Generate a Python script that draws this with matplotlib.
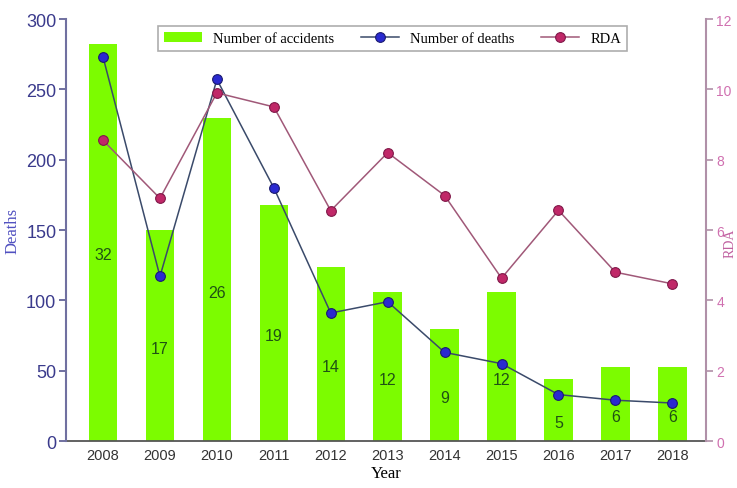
import matplotlib
matplotlib.use("Agg")
import matplotlib.pyplot as plt
import numpy as np

years = ["2008", "2009", "2010", "2011", "2012", "2013", "2014", "2015", "2016", "2017", "2018"]
accidents = [32, 17, 26, 19, 14, 12, 9, 12, 5, 6, 6]
deaths = [273, 117, 257, 180, 91, 99, 63, 55, 33, 29, 27]
rda = [8.55, 6.9, 9.9, 9.5, 6.55, 8.2, 6.98, 4.63, 6.56, 4.8, 4.47]

sans = "Liberation Sans"
serif = "Liberation Serif"

fig = plt.figure(figsize=(7.37, 4.89), dpi=100)
ax_b = fig.add_axes([0.0896, 0.0961, 0.8690, 0.8630])
x = np.arange(len(years))

bars = ax_b.bar(x, accidents, width=0.5, color="#7CFC00", label="Number of accidents", zorder=1)
ax_b.set_ylim(0, 34)
ax_b.set_xlim(-0.65, 10.6)
ax_b.yaxis.set_visible(False)
for s in ["left", "right", "top"]:
    ax_b.spines[s].set_visible(False)
ax_b.spines["bottom"].set_color("#555555")
ax_b.spines["bottom"].set_linewidth(1.3)
ax_b.set_xticks(x)
ax_b.set_xticklabels(years, fontfamily=sans, fontsize=10.5, color="#333333")
ax_b.tick_params(axis="x", length=0, pad=5)
ax_b.set_xlabel("Year", fontfamily=serif, fontsize=12, labelpad=2)

for xi, a in zip(x, accidents):
    ax_b.annotate(str(a), (xi, a / 2), xytext=(0, -9), textcoords="offset points",
                  ha="center", va="center", fontfamily=sans, fontsize=11.5, color="#1f5214")

# deaths axis (left)
ax_d = ax_b.twinx()
ax_d.yaxis.tick_left()
ax_d.yaxis.set_label_position("left")
ld, = ax_d.plot(x, deaths, color="#3a4a6a", lw=1.1, marker="o", ms=7,
                mfc="#2a2ad0", mec="#1a1a70", mew=0.8, label="Number of deaths", zorder=3)
ax_d.set_ylim(0, 300)
ax_d.set_yticks(range(0, 301, 50))
ax_d.tick_params(axis="y", direction="out", length=5, width=1.4, color="#7070a0",
                 labelcolor="#3a3a8c", labelsize=13, pad=2)
for lab in ax_d.get_yticklabels():
    lab.set_fontfamily(sans)
for s in ["right", "top", "bottom"]:
    ax_d.spines[s].set_visible(False)
ax_d.spines["left"].set_color("#7070a0")
ax_d.spines["left"].set_linewidth(1.5)
ax_d.set_ylabel("Deaths", fontfamily=serif, fontsize=12, color="#5050c0", labelpad=4)

# RDA axis (right)
ax_r = ax_b.twinx()
lr, = ax_r.plot(x, rda, color="#a05878", lw=1.1, marker="o", ms=7,
                mfc="#c02868", mec="#801848", mew=0.8, label="RDA", zorder=3)
ax_r.set_ylim(0, 12)
ax_r.set_yticks(range(0, 13, 2))
ax_r.tick_params(axis="y", direction="out", length=5, width=1.2, color="#b090a8",
                 labelcolor="#d070b0", labelsize=10, pad=2)
for lab in ax_r.get_yticklabels():
    lab.set_fontfamily(sans)
for s in ["left", "top", "bottom"]:
    ax_r.spines[s].set_visible(False)
ax_r.spines["right"].set_color("#b090a8")
ax_r.spines["right"].set_linewidth(1.5)
ax_r.set_ylabel("RDA", fontfamily=serif, fontsize=10, color="#c060a0")
ax_r.yaxis.set_label_coords(1.026, 0.47)

leg = ax_r.legend([bars, ld, lr], ["Number of accidents", "Number of deaths", "RDA"],
                  loc="upper center", bbox_to_anchor=(0.51, 1.0), ncol=3, frameon=True,
                  fancybox=False, edgecolor="#999999", prop={"family": serif, "size": 10.5},
                  handlelength=2.6, columnspacing=1.8, borderpad=0.4, handletextpad=0.8)
leg.get_frame().set_linewidth(1.2)

fig.savefig("out.png", dpi=100)
